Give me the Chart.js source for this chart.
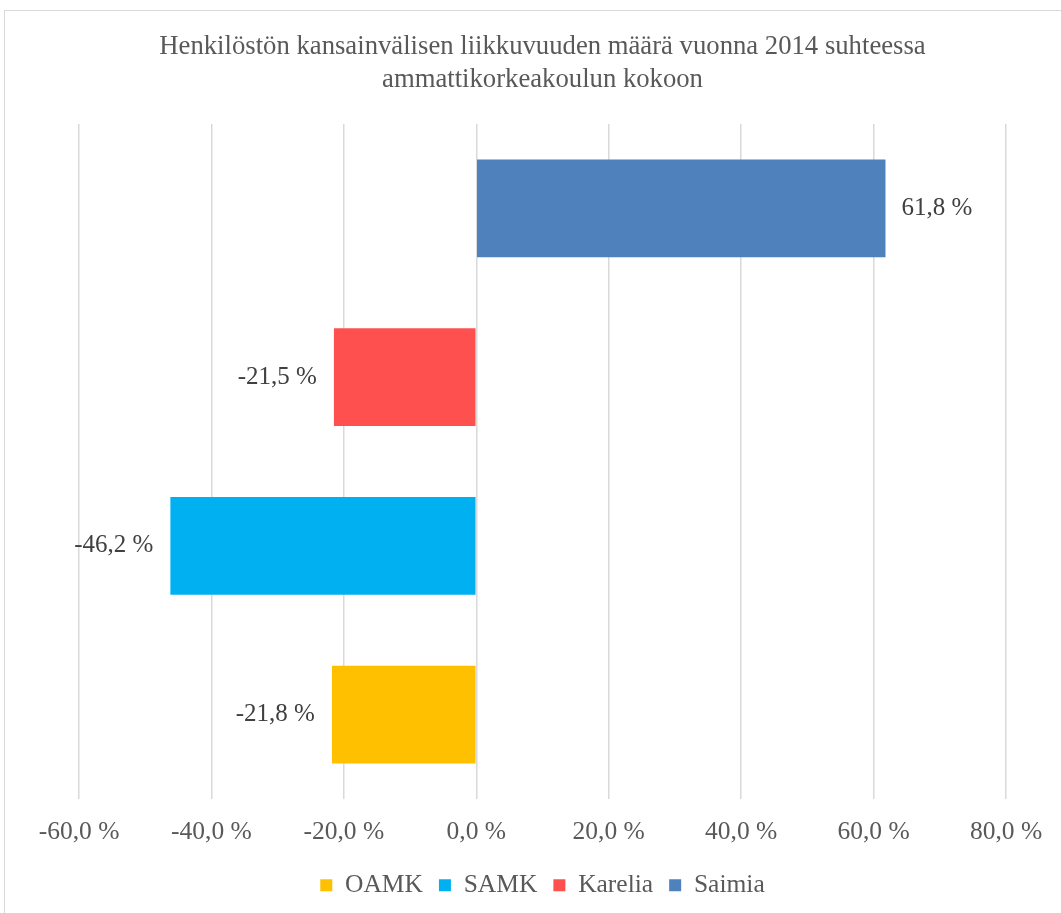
<!DOCTYPE html>
<html>
<head>
<meta charset="utf-8">
<script src="https://cdn.jsdelivr.net/npm/chart.js@4"></script>
<style>
  html, body { margin: 0; padding: 0; background: #fff; }
  #wrap { position: relative; width: 1061px; height: 913px; overflow: hidden; }
  #frame { position: absolute; left: 4px; top: 10px; width: 1100px; height: 950px; border: 1px solid #d9d9d9; box-sizing: border-box; }
  canvas { position: absolute; left: 0; top: 0; }
</style>
</head>
<body>
<div id="wrap">
  <div id="frame"></div>
  <canvas id="chart" width="1061" height="913"></canvas>
</div>
<script>
// Values
const schools = ['OAMK', 'SAMK', 'Karelia', 'Saimia'];
const values = [-21.8, -46.2, -21.5, 61.8];
const barColors = ['#FFC000', '#00B0F0', '#FF5050', '#4F81BD'];
const categories = schools.slice().reverse();
const xMin = -60, xMax = 80, xStep = 20;
const chartTitle = ['Henkilöstön kansainvälisen liikkuvuuden määrä vuonna 2014 suhteessa', 'ammattikorkeakoulun kokoon'];

const fmt = v => v.toFixed(1).replace('.', ',') + ' %';
const serif = '"Liberation Serif", "Times New Roman", serif';

const datasets = schools.map((name, i) => ({
    label: name,
    data: categories.map(c => c === name ? values[i] : null),
    backgroundColor: barColors[i],
    borderWidth: 0,
    barPercentage: 0.58,
    categoryPercentage: 1
}));

const valueLabels = {
    id: 'valueLabels',
    afterDatasetsDraw(chart) {
        const ctx = chart.ctx;
        ctx.save();
        ctx.font = '25px ' + serif;
        ctx.fillStyle = '#404040';
        ctx.textBaseline = 'middle';
        chart.data.datasets.forEach((ds, di) => {
            chart.getDatasetMeta(di).data.forEach((bar, j) => {
                const v = ds.data[j];
                if (v === null) return;
                if (v >= 0) {
                    ctx.textAlign = 'left';
                    ctx.fillText(fmt(v), bar.x + 16, bar.y);
                } else {
                    ctx.textAlign = 'right';
                    ctx.fillText(fmt(v), bar.x - 17, bar.y);
                }
            });
        });
        ctx.restore();
    }
};

new Chart(document.getElementById('chart'), {
    type: 'bar',
    data: { labels: categories, datasets: datasets },
    options: {
        indexAxis: 'y',
        responsive: false,
        animation: false,
        layout: { padding: { left: 79, right: 55, top: 14, bottom: 5 } },
        plugins: {
            title: {
                display: true,
                text: chartTitle,
                color: '#595959',
                font: { family: serif, size: 26.7, weight: 'normal', lineHeight: 1.236 },
                padding: { top: 16, bottom: 28 }
            },
            legend: {
                position: 'bottom',
                labels: {
                    color: '#595959',
                    font: { family: serif, size: 25.5 },
                    boxWidth: 12,
                    boxHeight: 12,
                    padding: 16
                }
            },
            tooltip: { enabled: false }
        },
        scales: {
            x: {
                stacked: true,
                min: xMin,
                max: xMax,
                ticks: {
                    stepSize: xStep,
                    color: '#595959',
                    font: { family: serif, size: 25.5, lineHeight: 1.2 },
                    padding: 18,
                    maxRotation: 0,
                    callback: v => fmt(v)
                },
                grid: { color: '#d9d9d9', lineWidth: 1.5, drawTicks: false },
                border: { display: false },
                afterFit(scale) {
                    scale.height = 57.5;
                    scale.paddingLeft = 0;
                    scale.paddingRight = 0;
                }
            },
            y: {
                stacked: true,
                display: false
            }
        }
    },
    plugins: [valueLabels]
});
</script>
</body>
</html>
